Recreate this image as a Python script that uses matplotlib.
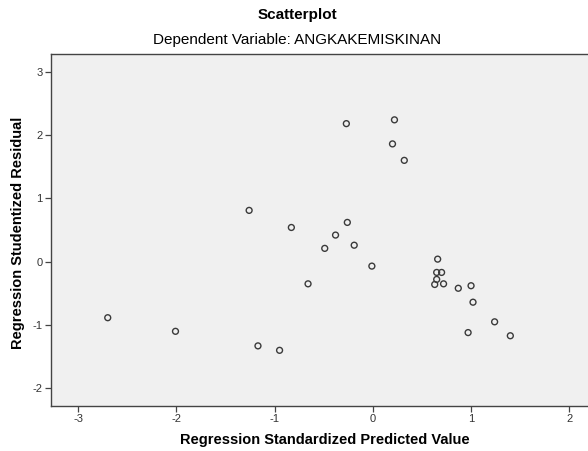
import matplotlib.pyplot as plt

plt.rcParams['font.family'] = ['Liberation Sans', 'DejaVu Sans']
plt.rcParams['axes.unicode_minus'] = False

# regression standardized predicted value / studentized residual
pred = [-2.70, -2.01, -1.17, -0.95, -1.26, -0.83, -0.66, -0.49, -0.38,
        -0.27, -0.26, -0.19, -0.01, 0.20, 0.22, 0.32,
        0.66, 0.65, 0.70, 0.65, 0.63, 0.72, 0.87, 1.00, 1.02, 1.24, 0.97, 1.40]
resid = [-0.885, -1.10, -1.33, -1.40, 0.81, 0.54, -0.35, 0.21, 0.42,
         2.18, 0.62, 0.26, -0.07, 1.86, 2.24, 1.60,
         0.04, -0.17, -0.17, -0.28, -0.36, -0.35, -0.42, -0.38, -0.64, -0.95, -1.12, -1.17]

xticks = [-3, -2, -1, 0, 1, 2]
yticks = [-2, -1, 0, 1, 2, 3]

fig = plt.figure(figsize=(5.88, 4.51), dpi=100)
ax = fig.add_axes([0.0862, 0.1004, 0.932, 0.7799])
ax.set_facecolor('#f0f0f0')

ax.scatter(pred, resid, s=18, facecolors='none', edgecolors='#3a3a3a', linewidths=1.0)

ax.set_xlim(-3.281, 2.3)
ax.set_ylim(-2.275, 3.28)
ax.set_xticks(xticks)
ax.set_yticks(yticks)
ax.tick_params(direction='out', length=4.5, width=0.9, colors='#444444',
               labelsize=8, labelcolor='#333333', pad=1.5)
for s in ax.spines.values():
    s.set_color('#444444')
    s.set_linewidth(1.0)

xl = ax.set_xlabel('Regression Standardized Predicted Value', fontsize=10.5, fontweight='bold')
xl.set_va('center')
ax.xaxis.set_label_coords(0.5, -0.0985)
yl = ax.set_ylabel('Regression Studentized Residual', fontsize=10.5, fontweight='bold')
yl.set_va('center')
ax.yaxis.set_label_coords(-0.0597, 0.49)

fig.text(297 / 588, 1 - 15 / 451, 'Scatterplot', ha='center', va='center', fontsize=11, fontweight='bold')
fig.text(297 / 588, 1 - 40 / 451, 'Dependent Variable: ANGKAKEMISKINAN', ha='center', va='center', fontsize=11)

fig.savefig('out.png', dpi=100)
